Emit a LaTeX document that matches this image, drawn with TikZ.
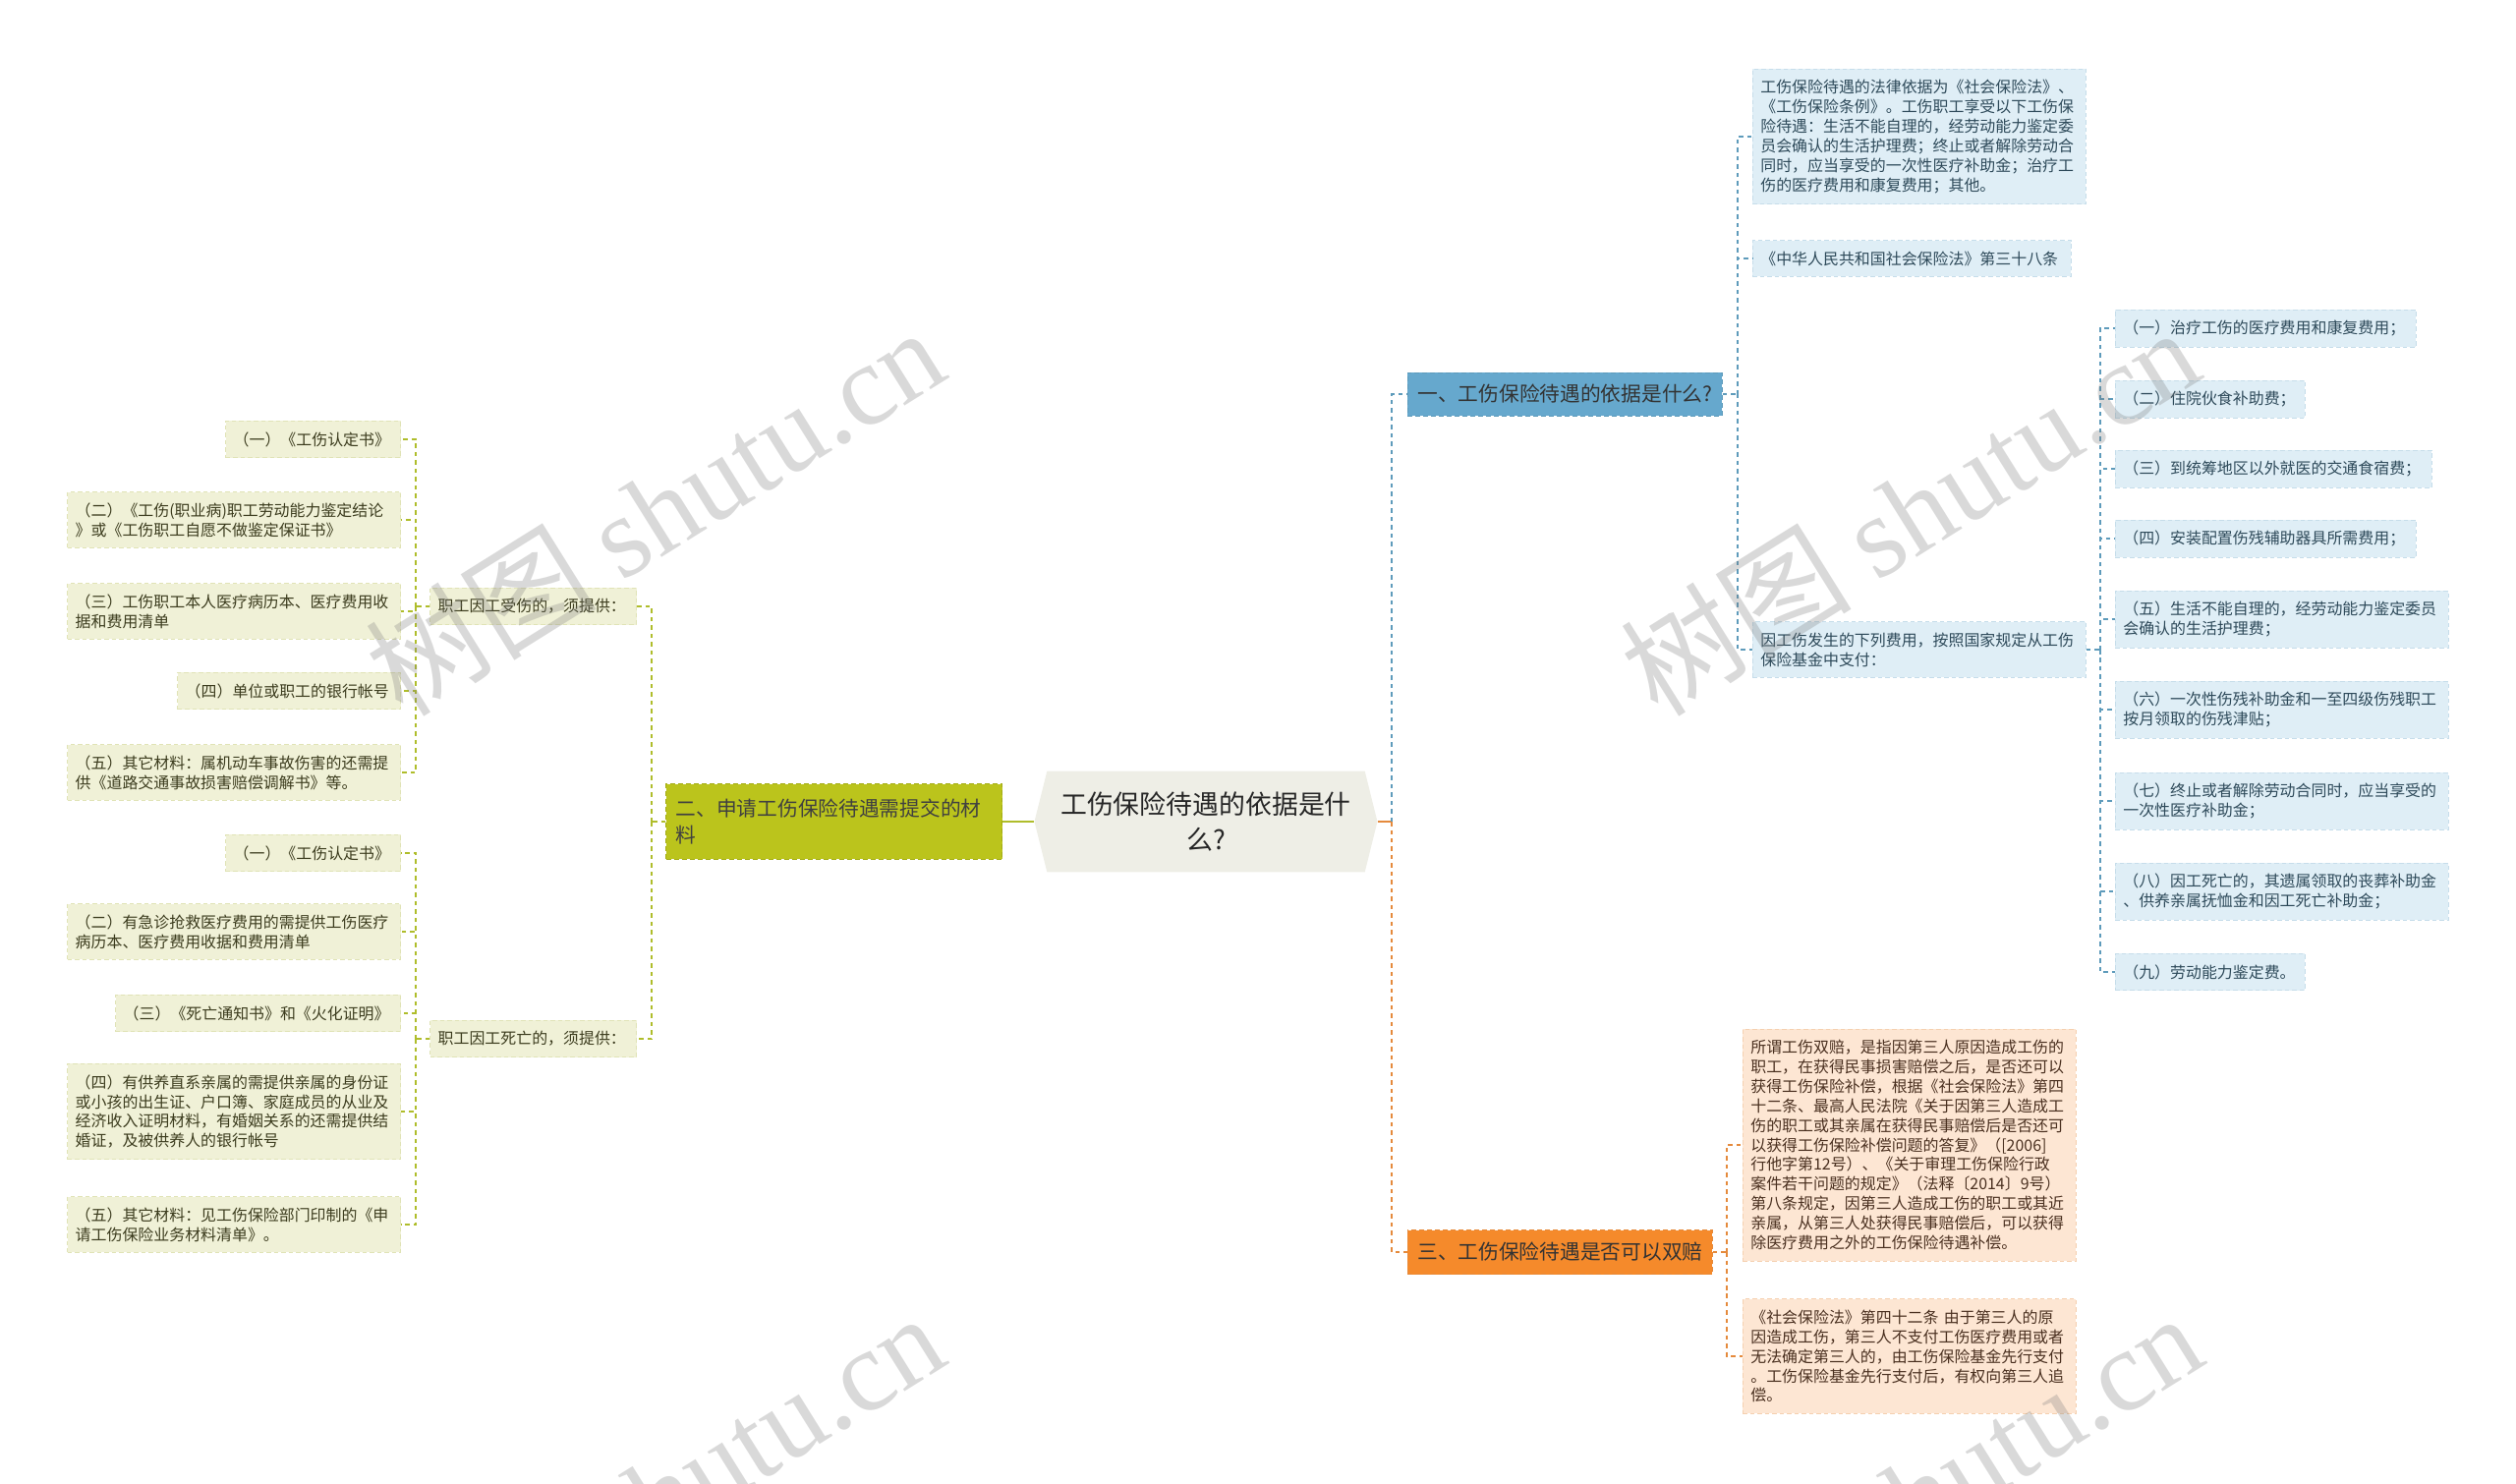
\documentclass[tikz,border=0pt]{standalone}
\usepackage{fontspec}
\setmainfont{Noto Sans CJK SC}
\newfontfamily\wmserif{Liberation Serif}
\usepackage{tikz}
\usetikzlibrary{shapes.symbols}

\definecolor{rootFill}{HTML}{EEEEE6}
\definecolor{blueMain}{HTML}{66A8CD}
\definecolor{blueLeaf}{HTML}{DFEEF6}
\definecolor{blueEdge}{HTML}{C6DDEA}
\definecolor{blueLine}{HTML}{5E9BBB}
\definecolor{blueText}{HTML}{2E4A5A}
\definecolor{orangeMain}{HTML}{F58A2B}
\definecolor{orangeLeaf}{HTML}{FDE6D3}
\definecolor{orangeEdge}{HTML}{F5D0B0}
\definecolor{orangeLine}{HTML}{E58A3C}
\definecolor{orangeText}{HTML}{4A3020}
\definecolor{oliveMain}{HTML}{BBC41C}
\definecolor{oliveEdge}{HTML}{A3AC14}
\definecolor{oliveLeaf}{HTML}{F0F1D7}
\definecolor{oliveLeafEdge}{HTML}{E0E3B6}
\definecolor{oliveLine}{HTML}{AFBD2B}
\definecolor{oliveText}{HTML}{3C3C1E}
\definecolor{wmGray}{HTML}{7A7A7A}

\tikzset{
  rootbox/.style={signal, signal to=east and west, signal pointer angle=152,
    fill=rootFill, draw=none, minimum width=6.98cm, minimum height=2.06cm,
    text width=6.1cm, align=center, text=black!85,
    font=\fontsize{15.3pt}{21pt}\selectfont},
  mainbox/.style={rectangle, draw, dash pattern=on 0.1cm off 0.06cm, line width=0.5pt,
    inner xsep=0.18cm, align=left, font=\fontsize{11.8pt}{15.9pt}\selectfont},
  leaf/.style={rectangle, draw, dash pattern=on 0.09cm off 0.06cm, line width=0.4pt,
    inner xsep=0.16cm, inner ysep=0.22cm, align=left,
    font=\fontsize{9.07pt}{11.34pt}\selectfont},
  blueleaf/.style={leaf, fill=blueLeaf, draw=blueEdge, text=blueText},
  orangeleaf/.style={leaf, fill=orangeLeaf, draw=orangeEdge, text=orangeText},
  oliveleaf/.style={leaf, fill=oliveLeaf, draw=oliveLeafEdge, text=oliveText},
  wide/.style={minimum width=6.78cm, text width=6.46cm},
  link/.style={line width=0.035cm, dash pattern=on 0.09cm off 0.08cm},
  blueline/.style={link, draw=blueLine},
  orangeline/.style={link, draw=orangeLine},
  oliveline/.style={link, draw=oliveLine},
  wmark/.style={rotate=32, text=wmGray, text opacity=0.28, inner sep=0pt,
    font=\fontsize{67pt}{67pt}\selectfont}
}

\begin{document}
\begin{tikzpicture}[x=0.02cm, y=-0.02cm]
  \useasboundingbox (0,0) rectangle (2560,1510);
  \fill[white] (0,0) rectangle (2560,1510);

  %root
  \node[rootbox] (root) at (1227,836) {工伤保险待遇的依据是什\\么?};

  %branch 1
  \node[mainbox, fill=blueMain, draw=blueLine, text=black!80, anchor=west,
    minimum width=6.4cm, minimum height=0.88cm] (br1) at (1432,401) {一、工伤保险待遇的依据是什么?};
  \node[blueleaf, wide, anchor=west] (a1) at (1783,139)
    {工伤保险待遇的法律依据为《社会保险法》、\\《工伤保险条例》。工伤职工享受以下工伤保\\险待遇：生活不能自理的，经劳动能力鉴定委\\员会确认的生活护理费；终止或者解除劳动合\\同时，应当享受的一次性医疗补助金；治疗工\\伤的医疗费用和康复费用；其他。};
  \node[blueleaf, anchor=west, minimum width=6.48cm, text width=6.16cm] (a2) at (1783,263)
    {《中华人民共和国社会保险法》第三十八条};
  \node[blueleaf, wide, anchor=west] (a3) at (1783,661)
    {因工伤发生的下列费用，按照国家规定从工伤\\保险基金中支付：};

  %costs
  \node[blueleaf, anchor=west, minimum width=6.12cm, text width=5.8cm] (c1) at (2152,334) {（一）治疗工伤的医疗费用和康复费用；};
  \node[blueleaf, anchor=west, minimum width=3.86cm, text width=3.54cm] (c2) at (2152,406) {（二）住院伙食补助费；};
  \node[blueleaf, anchor=west, minimum width=6.44cm, text width=6.12cm] (c3) at (2152,477) {（三）到统筹地区以外就医的交通食宿费；};
  \node[blueleaf, anchor=west, minimum width=6.12cm, text width=5.8cm] (c4) at (2152,548) {（四）安装配置伤残辅助器具所需费用；};
  \node[blueleaf, wide, anchor=west] (c5) at (2152,630) {（五）生活不能自理的，经劳动能力鉴定委员\\会确认的生活护理费；};
  \node[blueleaf, wide, anchor=west] (c6) at (2152,722) {（六）一次性伤残补助金和一至四级伤残职工\\按月领取的伤残津贴；};
  \node[blueleaf, wide, anchor=west] (c7) at (2152,815) {（七）终止或者解除劳动合同时，应当享受的\\一次性医疗补助金；};
  \node[blueleaf, wide, anchor=west] (c8) at (2152,907) {（八）因工死亡的，其遗属领取的丧葬补助金\\、供养亲属抚恤金和因工死亡补助金；};
  \node[blueleaf, anchor=west, minimum width=3.86cm, text width=3.54cm] (c9) at (2152,989) {（九）劳动能力鉴定费。};

  %branch 3
  \node[mainbox, fill=orangeMain, draw=orangeLine, text=black!80, anchor=west,
    minimum width=6.2cm, minimum height=0.9cm] (br3) at (1432,1274) {三、工伤保险待遇是否可以双赔};
  \node[orangeleaf, wide, anchor=west] (o1) at (1773,1165)
    {所谓工伤双赔，是指因第三人原因造成工伤的\\职工，在获得民事损害赔偿之后，是否还可以\\获得工伤保险补偿，根据《社会保险法》第四\\十二条、最高人民法院《关于因第三人造成工\\伤的职工或其亲属在获得民事赔偿后是否还可\\以获得工伤保险补偿问题的答复》（[2006]\\行他字第12号）、《关于审理工伤保险行政\\案件若干问题的规定》（法释〔2014〕9号）\\第八条规定，因第三人造成工伤的职工或其近\\亲属，从第三人处获得民事赔偿后，可以获得\\除医疗费用之外的工伤保险待遇补偿。};
  \node[orangeleaf, wide, anchor=west] (o2) at (1773,1380)
    {《社会保险法》第四十二条 由于第三人的原\\因造成工伤，第三人不支付工伤医疗费用或者\\无法确定第三人的，由工伤保险基金先行支付\\。工伤保险基金先行支付后，有权向第三人追\\偿。};

  %branch 2
  \node[mainbox, fill=oliveMain, draw=oliveEdge, text=black!75, anchor=east,
    minimum width=6.84cm, text width=6.44cm, minimum height=1.54cm] (br2) at (1020,836)
    {二、申请工伤保险待遇需提交的材\\料};
  \node[oliveleaf, anchor=east, minimum width=4.2cm, text width=3.88cm] (inj) at (648,617) {职工因工受伤的，须提供：};
  \node[oliveleaf, anchor=east, minimum width=4.2cm, text width=3.88cm] (dth) at (648,1057) {职工因工死亡的，须提供：};

  %injured
  \node[oliveleaf, anchor=east, minimum width=3.56cm, text width=3.24cm] (i1) at (408,447) {（一）《工伤认定书》};
  \node[oliveleaf, wide, anchor=east] (i2) at (408,529) {（二）《工伤(职业病)职工劳动能力鉴定结论\\》或《工伤职工自愿不做鉴定保证书》};
  \node[oliveleaf, wide, anchor=east] (i3) at (408,622) {（三）工伤职工本人医疗病历本、医疗费用收\\据和费用清单};
  \node[oliveleaf, anchor=east, minimum width=4.54cm, text width=4.22cm] (i4) at (408,703) {（四）单位或职工的银行帐号};
  \node[oliveleaf, wide, anchor=east] (i5) at (408,786) {（五）其它材料：属机动车事故伤害的还需提\\供《道路交通事故损害赔偿调解书》等。};

  %death
  \node[oliveleaf, anchor=east, minimum width=3.56cm, text width=3.24cm] (k1) at (408,868) {（一）《工伤认定书》};
  \node[oliveleaf, wide, anchor=east] (k2) at (408,948) {（二）有急诊抢救医疗费用的需提供工伤医疗\\病历本、医疗费用收据和费用清单};
  \node[oliveleaf, anchor=east, minimum width=5.8cm, text width=5.48cm] (k3) at (408,1031) {（三）《死亡通知书》和《火化证明》};
  \node[oliveleaf, wide, anchor=east] (k4) at (408,1131) {（四）有供养直系亲属的需提供亲属的身份证\\或小孩的出生证、户口簿、家庭成员的从业及\\经济收入证明材料，有婚姻关系的还需提供结\\婚证，及被供养人的银行帐号};
  \node[oliveleaf, wide, anchor=east] (k5) at (408,1246) {（五）其它材料：见工伤保险部门印制的《申\\请工伤保险业务材料清单》。};

  %links right
  \coordinate (rt) at (1416,836);
  \draw[orangeline, solid] (root.east) -- (rt);
  \draw[blueline] (rt) |- (br1.west);
  \draw[orangeline] (rt) |- (br3.west);

  \coordinate (j1) at (1768,401);
  \draw[blueline] (br1.east) -- (j1);
  \foreach \n in {a1,a2,a3}
    \draw[blueline] (j1) |- (\n.west);

  \coordinate (j3) at (2137,661);
  \draw[blueline] (a3.east) -- (j3);
  \foreach \n in {c1,c2,c3,c4,c5,c6,c7,c8,c9}
    \draw[blueline] (j3) |- (\n.west);

  \coordinate (j4) at (1757,1274);
  \draw[orangeline] (br3.east) -- (j4);
  \foreach \n in {o1,o2}
    \draw[orangeline] (j4) |- (\n.west);

  %links left
  \draw[oliveline, solid] (root.west) -- (br2.east);
  \coordinate (j2) at (663,836);
  \draw[oliveline] (br2.west) -- (j2);
  \foreach \n in {inj,dth}
    \draw[oliveline] (j2) |- (\n.east);

  \coordinate (ji) at (423,617);
  \draw[oliveline] (inj.west) -- (ji);
  \foreach \n in {i1,i2,i3,i4,i5}
    \draw[oliveline] (ji) |- (\n.east);

  \coordinate (jk) at (423,1057);
  \draw[oliveline] (dth.west) -- (jk);
  \foreach \n in {k1,k2,k3,k4,k5}
    \draw[oliveline] (jk) |- (\n.east);

  %watermarks
  \node[wmark, anchor=east] (wm1) at (945,345) {树图 {\wmserif shutu.cn}};
  \node[wmark, anchor=east] (wm2) at (2222,345) {树图 {\wmserif shutu.cn}};
  \node[wmark, anchor=east] (wm3) at (945,1348) {树图 {\wmserif shutu.cn}};
  \node[wmark, anchor=east] (wm4) at (2225,1348) {树图 {\wmserif shutu.cn}};
\end{tikzpicture}
\end{document}
